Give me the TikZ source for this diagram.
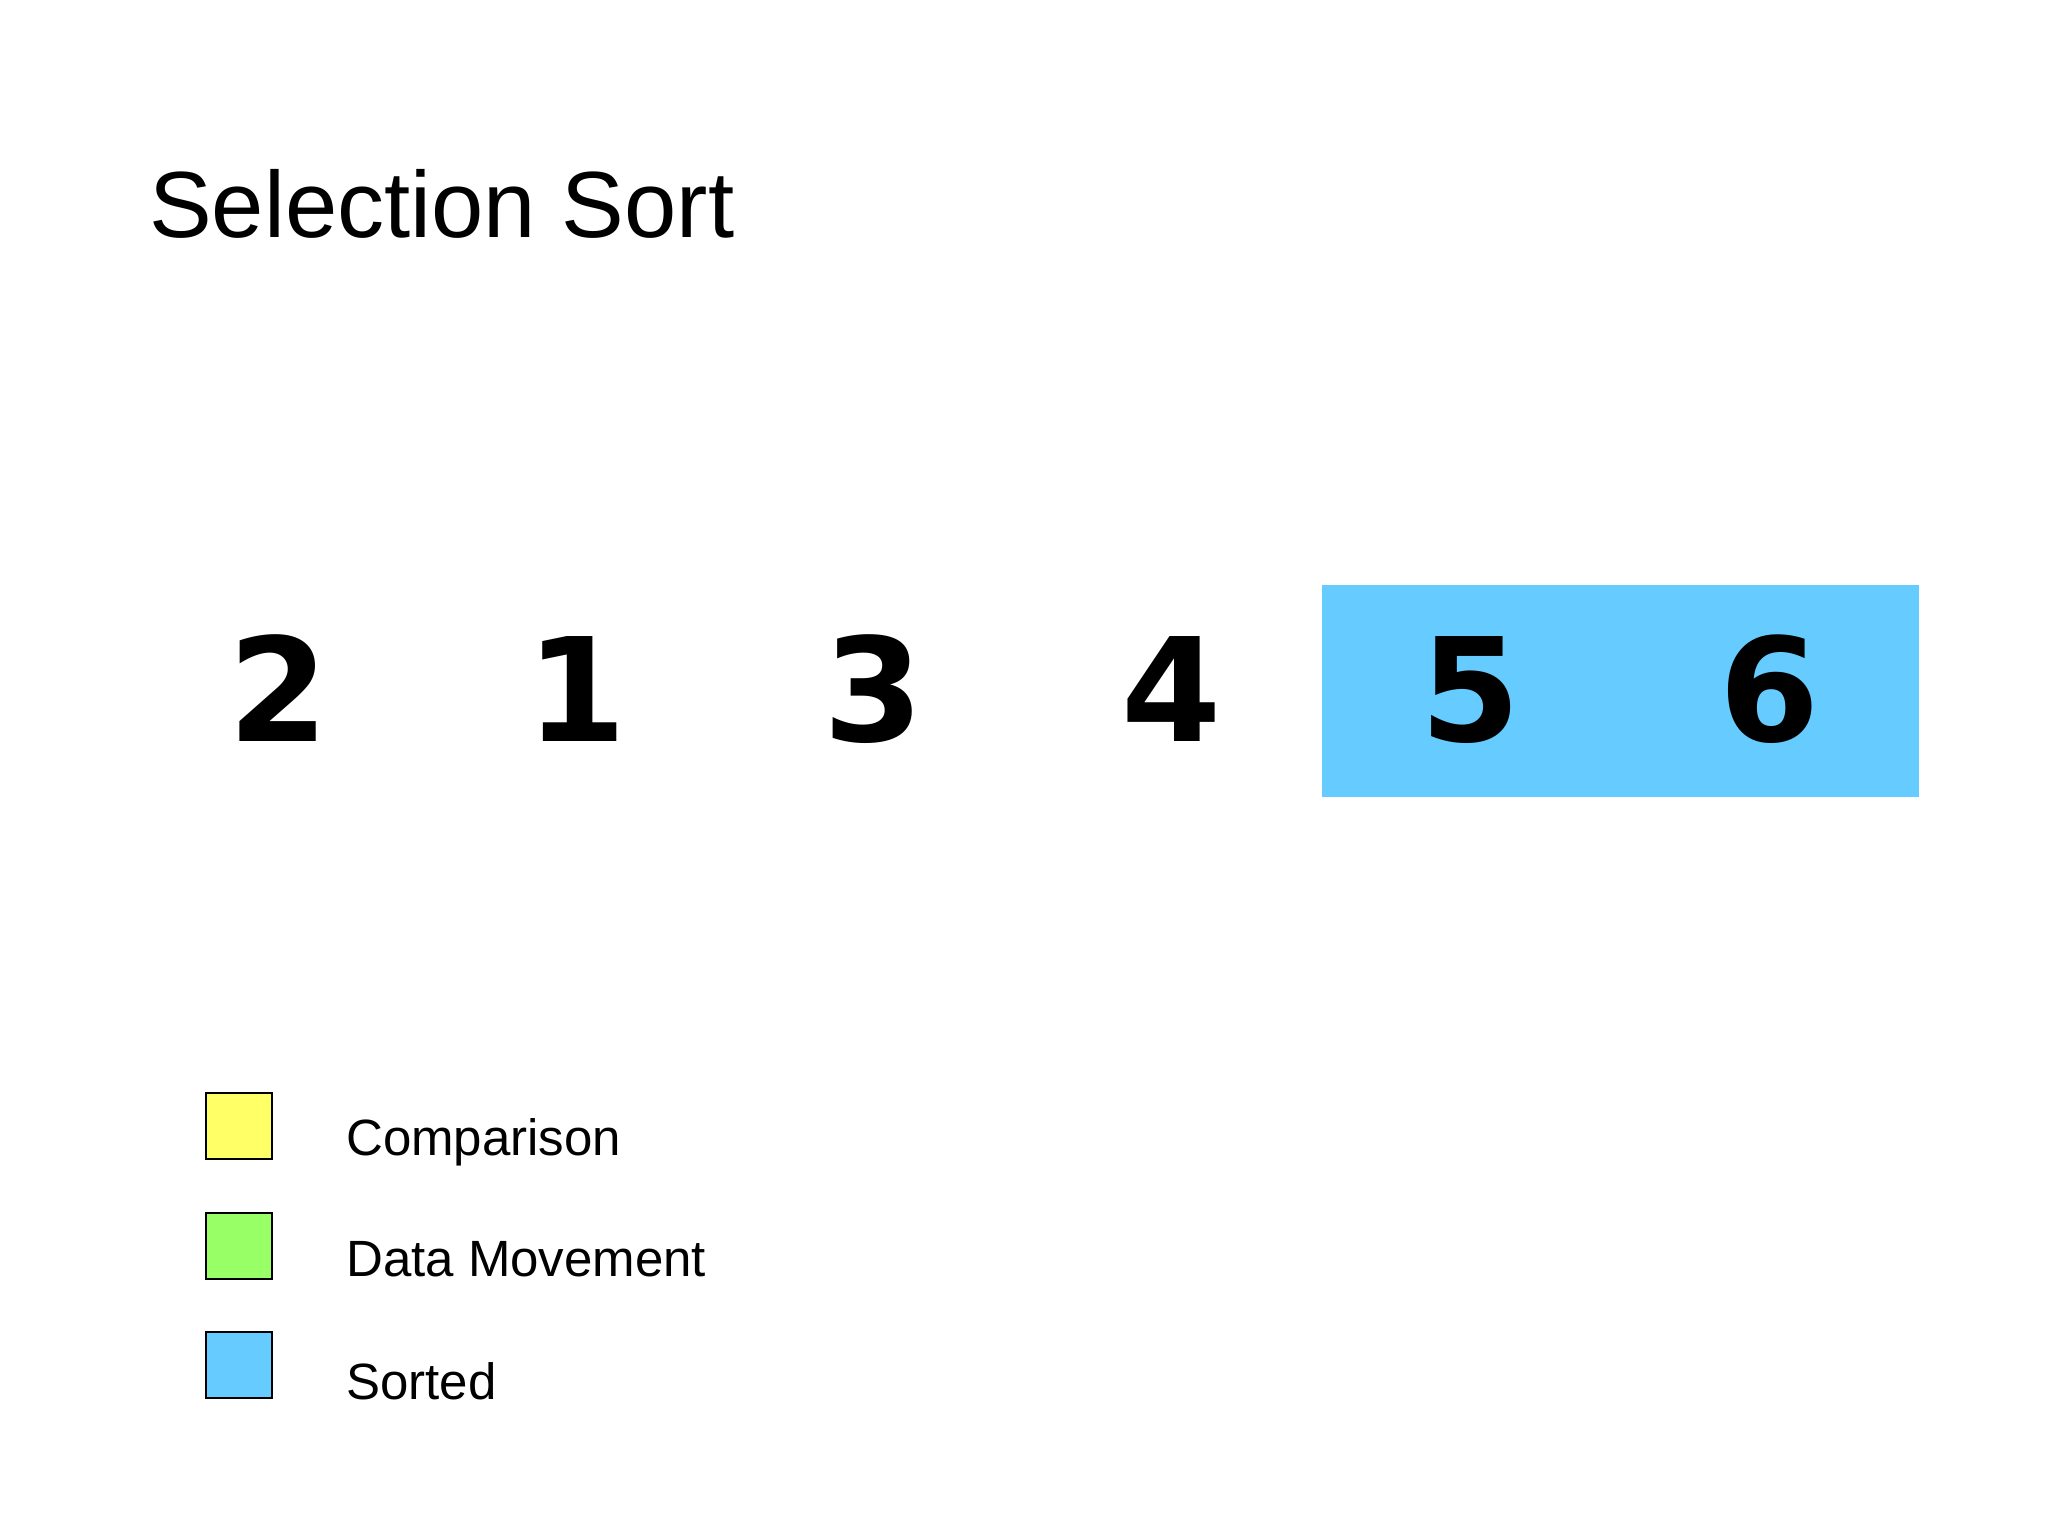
\documentclass[tikz,border=0pt]{standalone}
\usepackage{fontspec}
\setmainfont{Liberation Sans}
\newfontfamily\digitfont{DejaVu Sans}
\definecolor{sortedblue}{HTML}{66CCFF}
\definecolor{cmpyellow}{HTML}{FFFF66}
\definecolor{movegreen}{HTML}{99FF66}
\tikzset{
  numtxt/.style={inner sep=0pt, anchor=base, font=\digitfont\bfseries\fontsize{144}{144}\selectfont},
  legbox/.style={draw=black, line width=2pt, minimum width=66pt, minimum height=66pt, inner sep=0pt},
  legtxt/.style={inner sep=0pt, anchor=base west, font=\fontsize{51}{55}\selectfont},
}
\begin{document}
\begin{tikzpicture}[x=1pt,y=-1pt]
\useasboundingbox[fill=white] (0,0) rectangle (2048,1536);
\node[inner sep=0pt, anchor=base west, font=\fontsize{94}{100}\selectfont] (title) at (149,237) {Selection Sort};
\node[fill=sortedblue, inner sep=0pt, minimum width=597pt, minimum height=212pt] (sorted) at (1620.5,691) {};
\node[numtxt] (n1) at (279,741) {2};
\node[numtxt] (n2) at (577,741) {1};
\node[numtxt] (n3) at (874,741) {3};
\node[numtxt] (n4) at (1172,741) {4};
\node[numtxt] (n5) at (1471,741) {5};
\node[numtxt] (n6) at (1770,741) {6};
\node[legbox, fill=cmpyellow] (lb1) at (239,1126) {};
\node[legbox, fill=movegreen] (lb2) at (239,1246) {};
\node[legbox, fill=sortedblue] (lb3) at (239,1365) {};
\node[legtxt] (lt1) at (346,1155) {Comparison};
\node[legtxt] (lt2) at (346,1276) {Data Movement};
\node[legtxt] (lt3) at (346,1399) {Sorted};
\end{tikzpicture}
\end{document}
